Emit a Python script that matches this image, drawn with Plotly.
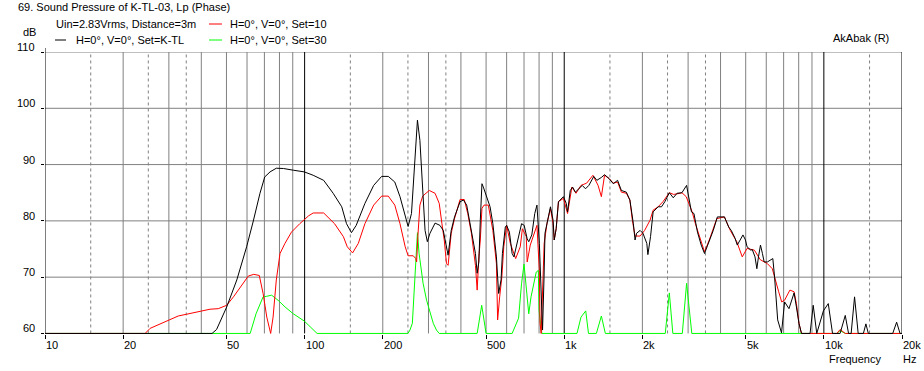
import math
import plotly.graph_objects as go

# ---------------- data ----------------
black_f = [10, 44, 45.8, 50.1, 54.8, 59.8, 63.3, 67.3, 70.2, 73.6, 77.8, 82.9, 90.4, 99.7, 107.9, 118.4,
           128.8, 139, 145, 151.5, 158, 170.7, 184.5, 198, 210, 222.5, 233, 244, 250.4, 258, 265, 270,
           272, 278, 285, 291, 297, 304, 318, 332, 342, 352, 357, 367, 378, 397, 409, 421, 439, 455,
           462, 469, 475, 482, 488, 497, 518, 531, 548, 554, 559, 571, 578, 593, 600, 615, 630, 640,
           677, 685, 701, 720, 730, 750, 770, 785, 802, 817, 825, 836, 843, 885, 906, 915, 931, 950,
           993, 1018, 1030, 1055, 1077, 1104, 1138, 1173, 1208, 1244, 1300, 1335, 1389, 1430, 1490,
           1545, 1605, 1660, 1735, 1790, 1846, 1874, 1900, 1960, 2010, 2080, 2100, 2150, 2200, 2300,
           2370, 2440, 2540, 2630, 2720, 2840, 2960, 3020, 3090, 3160, 3260, 3370, 3470, 3570, 3750,
           3890, 4140, 4300, 4400, 4550, 4640, 4760, 4880, 4990, 5060, 5230, 5300, 5430, 5520, 5600,
           5700, 5800, 5890, 6060, 6360, 6460, 6540, 6640, 6870, 6970, 7060, 7340, 7680, 7840, 8020,
           8200, 8850, 9100, 9390, 9960, 10400, 10800, 11550, 12090, 12450, 12740, 13130, 13560,
           14200, 14520, 14840, 18420, 19070, 19656, 20000]
black_db = [60, 60, 60.7, 64.7, 69.5, 75.4, 79.8, 84.9, 87.8, 88.7, 89.35, 89.3, 89.0, 88.7, 88.1, 87.2,
            84.9, 82.5, 79.5, 77.9, 79.2, 83.1, 86.3, 87.9, 87.9, 86.9, 84.3, 81.0, 79.0, 81.3, 90.2, 96.7,
            97.9, 94.3, 85.4, 78.3, 76.3, 77.8, 79.6, 79.2, 78.3, 75.4, 73.9, 78.3, 80.7, 83.4, 83.7, 82.8,
            78.3, 74.2, 70.7, 72.7, 80.1, 86.6, 86.0, 84.9, 82.5, 79.5, 73.6, 70.0, 67.1, 69.5, 74.2, 78.9,
            79.2, 78.0, 74.2, 73.6, 78.3, 79.5, 79.2, 76.8, 76.3, 77.5, 81.3, 82.8, 76.0, 65.3, 60.6, 70.0,
            77.8, 82.5, 80.1, 76.6, 78.6, 83.4, 84.3, 83.1, 81.6, 85.4, 86.0, 85.1, 85.7, 86.3, 85.7, 86.3,
            87.9, 87.2, 87.7, 88.2, 87.5, 86.6, 87.2, 85.4, 85.1, 83.7, 79.5, 76.6, 77.8, 78.3, 77.8, 76.0,
            74.0, 77.2, 81.6, 82.5, 82.5, 83.4, 85.0, 84.1, 84.9, 85.0, 86.3, 83.7, 81.6, 81.3, 78.0, 75.7,
            74.2, 75.7, 78.3, 80.7, 80.7, 78.9, 78.3, 76.9, 75.7, 76.6, 77.5, 76.6, 75.4, 74.8, 74.9, 73.6,
            71.5, 73.6, 75.7, 74.2, 72.7, 72.7, 73.3, 70.0, 66.5, 62.4, 60.1, 62.9, 65.6, 64.4, 67.2, 64.7,
            61.8, 60, 60, 65.0, 60, 64.0, 65.3, 60, 60, 63.2, 60, 60, 66.5, 60, 60, 61.7, 60, 60, 62.0, 60, 60]

red_f = [10, 24.3, 25.4, 27.3, 30, 32.6, 35, 38.3, 43.2, 46.5, 50.1, 53.2, 57.2, 60.7, 63.7, 66.9, 69.2,
         71.5, 74, 75.6, 77.8, 80.4, 84, 89, 95.8, 103.6, 107.9, 118.4, 130.4, 141, 146, 153, 161, 170.7,
         184.5, 198, 210, 222.5, 233, 244, 250.4, 262, 268, 270, 273, 278, 285, 302, 318, 330, 338, 345,
         352, 357, 367, 378, 397, 412, 425, 439, 455, 462, 469, 475, 482, 491, 510, 531, 548, 554, 564,
         575, 585, 600, 620, 650, 677, 690, 714, 720, 740, 770, 785, 802, 807, 815, 824, 837, 858, 885,
         906, 915, 931, 950, 993, 1030, 1070, 1110, 1160, 1220, 1290, 1350, 1390, 1430, 1490, 1545, 1605,
         1660, 1735, 1790, 1830, 1874, 1960, 2040, 2140, 2200, 2300, 2400, 2540, 2640, 2795, 2840, 2950,
         3020, 3110, 3200, 3340, 3470, 3620, 3870, 4140, 4360, 4620, 4850, 5060, 5400, 5690, 6060, 6330,
         6520, 6700, 6880, 7060, 7400, 7680, 7840, 8020, 8200, 11220, 11550, 12090, 20000]
red_db = [60, 60, 60.9, 61.5, 62.4, 63.1, 63.4, 63.8, 64.3, 64.4, 65.0, 66.5, 68.6, 70.2, 70.5, 70.3, 67.1,
          62.9, 60, 62.9, 69.5, 74.2, 76.0, 78.0, 79.5, 80.9, 81.4, 81.4, 79.5, 77.2, 75.4, 74.3, 76.0, 79.5,
          82.8, 84.4, 84.4, 82.8, 79.5, 75.4, 73.8, 73.8, 73.3, 72.7, 77.2, 82.8, 84.4, 85.4, 84.9, 83.1,
          79.5, 76.6, 72.4, 72.1, 77.8, 80.4, 83.8, 83.8, 81.3, 77.8, 72.1, 67.7, 73.6, 76.6, 82.2, 82.8,
          82.8, 78.3, 72.4, 62.4, 66.5, 70.0, 75.4, 79.2, 76.0, 73.3, 75.4, 78.6, 77.2, 72.7, 75.7, 78.3,
          79.2, 71.2, 61.8, 60, 66.5, 76.0, 79.5, 82.2, 79.5, 76.6, 78.6, 83.4, 84.0, 81.3, 86.0, 84.9,
          86.3, 86.7, 88.1, 86.3, 84.3, 88.1, 87.5, 86.7, 86.9, 85.1, 84.9, 83.7, 80.1, 77.3, 77.3, 78.3,
          80.1, 81.9, 82.5, 83.4, 85.0, 84.7, 84.9, 85.0, 84.3, 83.1, 81.6, 79.5, 76.9, 74.5, 76.6, 80.4,
          80.7, 78.3, 76.3, 73.6, 75.1, 74.8, 73.1, 72.4, 71.5, 69.2, 67.4, 65.6, 65.9, 67.7, 67.4, 65.3,
          61.8, 60, 60, 60.7, 60, 60]

green_f = [10, 61.7, 65, 69.2, 71.5, 74.6, 79, 84.1, 90.4, 99.7, 105, 111.7, 250, 254.6, 260, 264, 268,
           272, 276, 280, 286, 295, 304, 313, 322, 330, 462, 481, 500, 630, 667, 685, 700, 714, 730, 745,
           765, 780, 795, 800, 810, 820, 1120, 1160, 1210, 1240, 1330, 1390, 1440, 2450, 2540, 2620, 2850,
           2960, 3100, 11220, 11550, 12090, 20000]
green_db = [60, 60, 63.5, 66.5, 66.6, 66.8, 65.9, 64.7, 63.5, 62.2, 61.2, 60, 60, 60.6, 61.8, 67.1, 73.0,
            77.9, 74.2, 71.8, 68.9, 65.9, 63.8, 61.8, 60.6, 60, 60, 65.0, 60, 60, 62.7, 68.9, 72.3, 67.7,
            63.5, 66.5, 68.9, 70.9, 71.2, 64.1, 61.8, 60, 60, 62.9, 64.0, 60, 60, 63.1, 60, 60, 67.2, 60,
            60, 68.9, 60, 60, 60.5, 60, 60]

x_tick_vals = [10, 20, 50, 100, 200, 500, 1000, 2000, 5000, 10000, 20000]
x_tick_text = ["10", "20", "50", "100", "200", "500", "1k", "2k", "5k", "10k", "20k"]
y_tick_vals = [60, 70, 80, 90, 100, 110]
y_tick_text = ["60", "70", "80", "90", "100", "110"]

# ---------------- layout helpers ----------------
W, H = 924, 371
L, R, T, B = 45, 902, 52, 334
FONT = "Liberation Sans"
FS = 11


def px(xp):
    return (xp - L) / (R - L)


def py(yp):
    return (B - yp) / (B - T)


fig = go.Figure()
fig.add_trace(go.Scatter(x=green_f, y=green_db, mode="lines", line=dict(color="#00ff00", width=1), hoverinfo="skip"))
fig.add_trace(go.Scatter(x=red_f, y=red_db, mode="lines", line=dict(color="#ff0000", width=1), hoverinfo="skip"))
fig.add_trace(go.Scatter(x=black_f, y=black_db, mode="lines", line=dict(color="#000000", width=1), hoverinfo="skip"))

shapes = []
# vertical grid
for dec in [10, 100, 1000, 10000]:
    for m in [1.5, 2, 2.5, 3, 3.5, 4, 5, 6, 7, 8, 9]:
        f = dec * m
        if f >= 20000:
            continue
        dashed = m in (1.5, 2.5, 3.5)
        shapes.append(dict(type="line", xref="x", yref="y", x0=f, x1=f, y0=60, y1=110, layer="below",
                           line=dict(color="#808080", width=1, dash="3px,3px" if dashed else "solid")))
# horizontal grid
for v in [70, 80, 90, 100, 110]:
    shapes.append(dict(type="line", xref="x", yref="y", x0=10, x1=20000, y0=v, y1=v, layer="below",
                       line=dict(color="#808080", width=1)))
# black decade lines + frame
for f in [100, 1000, 10000, 20000]:
    shapes.append(dict(type="line", xref="x", yref="y", x0=f, x1=f, y0=60, y1=110, layer="below",
                       line=dict(color="#000000", width=1)))
shapes.append(dict(type="line", xref="x", yref="paper", x0=10, x1=10, y0=0, y1=py(48), layer="above",
                   line=dict(color="#000000", width=1)))

# legend line samples
for (x0, x1, yp, c) in [(209, 222, 24, "#ff0000"), (55, 66, 40, "#000000"), (209, 222, 40, "#00ff00")]:
    shapes.append(dict(type="line", xref="paper", yref="paper", x0=px(x0), x1=px(x1), y0=py(yp), y1=py(yp),
                       line=dict(color=c, width=1)))

ann = []


def text(t, xp, yp, anchor="left"):
    ann.append(dict(text=t, xref="paper", yref="paper", x=px(xp), y=py(yp), xanchor=anchor, yanchor="middle",
                    showarrow=False, font=dict(family=FONT, size=FS, color="#000000")))


text("69. Sound Pressure of K-TL-03, Lp (Phase)", 16, 7)
text("Uin=2.83Vrms, Distance=3m", 54, 24)
text("H=0°, V=0°, Set=10", 228, 24)
text("H=0°, V=0°, Set=K-TL", 74, 40)
text("H=0°, V=0°, Set=30", 228, 40)
text("dB", 38, 32, "right")
text("AkAbak (R)", 831, 38)
text("Frequency", 827, 359)
text("Hz", 901, 359)

for v, t in zip(y_tick_vals, y_tick_text):
    ann.append(dict(text=t, xref="paper", yref="y", x=px(37), y=v, yshift=5, xanchor="right", yanchor="middle",
                    showarrow=False, font=dict(family=FONT, size=FS, color="#000000")))
for v, t in zip(x_tick_vals, x_tick_text):
    ann.append(dict(text=t, xref="x", yref="paper", x=math.log10(v), y=py(345), xshift=-1, xanchor="left",
                    yanchor="middle", showarrow=False, font=dict(family=FONT, size=FS, color="#000000")))

fig.update_layout(
    width=W, height=H, margin=dict(l=L, r=W - R, t=T, b=H - B, pad=0),
    paper_bgcolor="white", plot_bgcolor="white", showlegend=False,
    shapes=shapes, annotations=ann,
    xaxis=dict(type="log", range=[1, 4.30103], showgrid=False, zeroline=False, showline=False,
               tickvals=x_tick_vals, showticklabels=False, ticks="outside", ticklen=4, tickcolor="#000000",
               tickwidth=1, fixedrange=True),
    yaxis=dict(range=[59.9, 110], showgrid=False, zeroline=False, showline=False,
               tickvals=y_tick_vals, showticklabels=False, ticks="outside", ticklen=3, tickcolor="#000000",
               tickwidth=1, fixedrange=True),
)

fig.write_html("out.html", config={"displayModeBar": False},
               post_script="document.body.style.margin='0';document.body.style.overflow='hidden';")
